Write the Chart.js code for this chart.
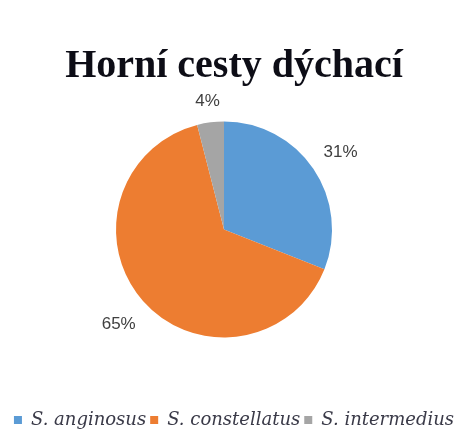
<!DOCTYPE html>
<html>
<head>
<meta charset="utf-8">
<script src="https://cdn.jsdelivr.net/npm/chart.js@4/dist/chart.umd.min.js"></script>
<style>
  html, body { margin: 0; padding: 0; background: #ffffff; }
  #wrap { width: 462px; height: 432px; }
</style>
</head>
<body>
<div id="wrap"><canvas id="c" width="462" height="432"></canvas></div>
<script>
// Podíl druhů ve vzorcích z horních cest dýchacích (%)
const categories = ['S. anginosus', 'S. constellatus', 'S. intermedius'];
const shares = [31, 65, 4];
const sliceColors = ['#5B9BD5', '#ED7D31', '#A5A5A5'];
const chartTitle = 'Horní cesty dýchací';

// Empty layout box that only reserves space next to the plot area
function gapBox(position, size) {
  return {
    position, weight: 0, fullSize: false, options: {},
    left: 0, top: 0, right: 0, bottom: 0, width: 0, height: 0,
    isHorizontal() { return position === 'top' || position === 'bottom'; },
    update(maxW, maxH) {
      if (this.isHorizontal()) { this.width = maxW; this.height = size; }
      else { this.width = size; this.height = maxH; }
    },
    draw() {}
  };
}

// Keeps the pie slightly left of and above the centre of the free area
const plotGaps = {
  id: 'plotGaps',
  beforeInit(chart) {
    Chart.layouts.addBox(chart, gapBox('right', 20));
    Chart.layouts.addBox(chart, gapBox('bottom', 39));
  }
};

// Percentage labels placed just outside each slice
const outsideLabels = {
  id: 'outsideLabels',
  afterDatasetsDraw(chart) {
    const ctx = chart.ctx;
    const meta = chart.getDatasetMeta(0);
    const values = chart.data.datasets[0].data;
    ctx.save();
    ctx.font = '17px "Liberation Sans", Arial, sans-serif';
    ctx.fillStyle = '#404040';
    ctx.textAlign = 'center';
    ctx.textBaseline = 'middle';
    meta.data.forEach((arc, i) => {
      const p = arc.getProps(['x', 'y', 'startAngle', 'endAngle', 'outerRadius'], true);
      const mid = (p.startAngle + p.endAngle) / 2;
      const text = values[i] + '%';
      const w = ctx.measureText(text).width;
      const h = 14;
      const c = Math.cos(mid), s = Math.sin(mid);
      const d = p.outerRadius + 15 + Math.abs(c) * w / 2 + Math.abs(s) * h / 2;
      ctx.fillText(text, p.x + c * d, p.y + s * d + 2);
    });
    ctx.restore();
  }
};

new Chart(document.getElementById('c'), {
  type: 'pie',
  data: {
    labels: categories,
    datasets: [{
      data: shares,
      backgroundColor: sliceColors,
      borderWidth: 0,
      radius: 108
    }]
  },
  options: {
    responsive: false,
    animation: false,
    layout: { padding: { top: 0, left: 6, right: 0, bottom: -7 } },
    plugins: {
      title: {
        display: true,
        text: chartTitle,
        color: '#0d0d16',
        font: { family: '"Liberation Serif", "Times New Roman", serif', size: 40, weight: 'bold' },
        padding: { top: 43, bottom: 0 }
      },
      legend: {
        display: true,
        position: 'bottom',
        labels: {
          boxWidth: 8,
          boxHeight: 8,
          padding: 4,
          color: '#3a3a48',
          font: { family: '"DejaVu Serif", serif', size: 18, style: 'italic' }
        }
      },
      tooltip: { enabled: false }
    }
  },
  plugins: [plotGaps, outsideLabels]
});
</script>
</body>
</html>
